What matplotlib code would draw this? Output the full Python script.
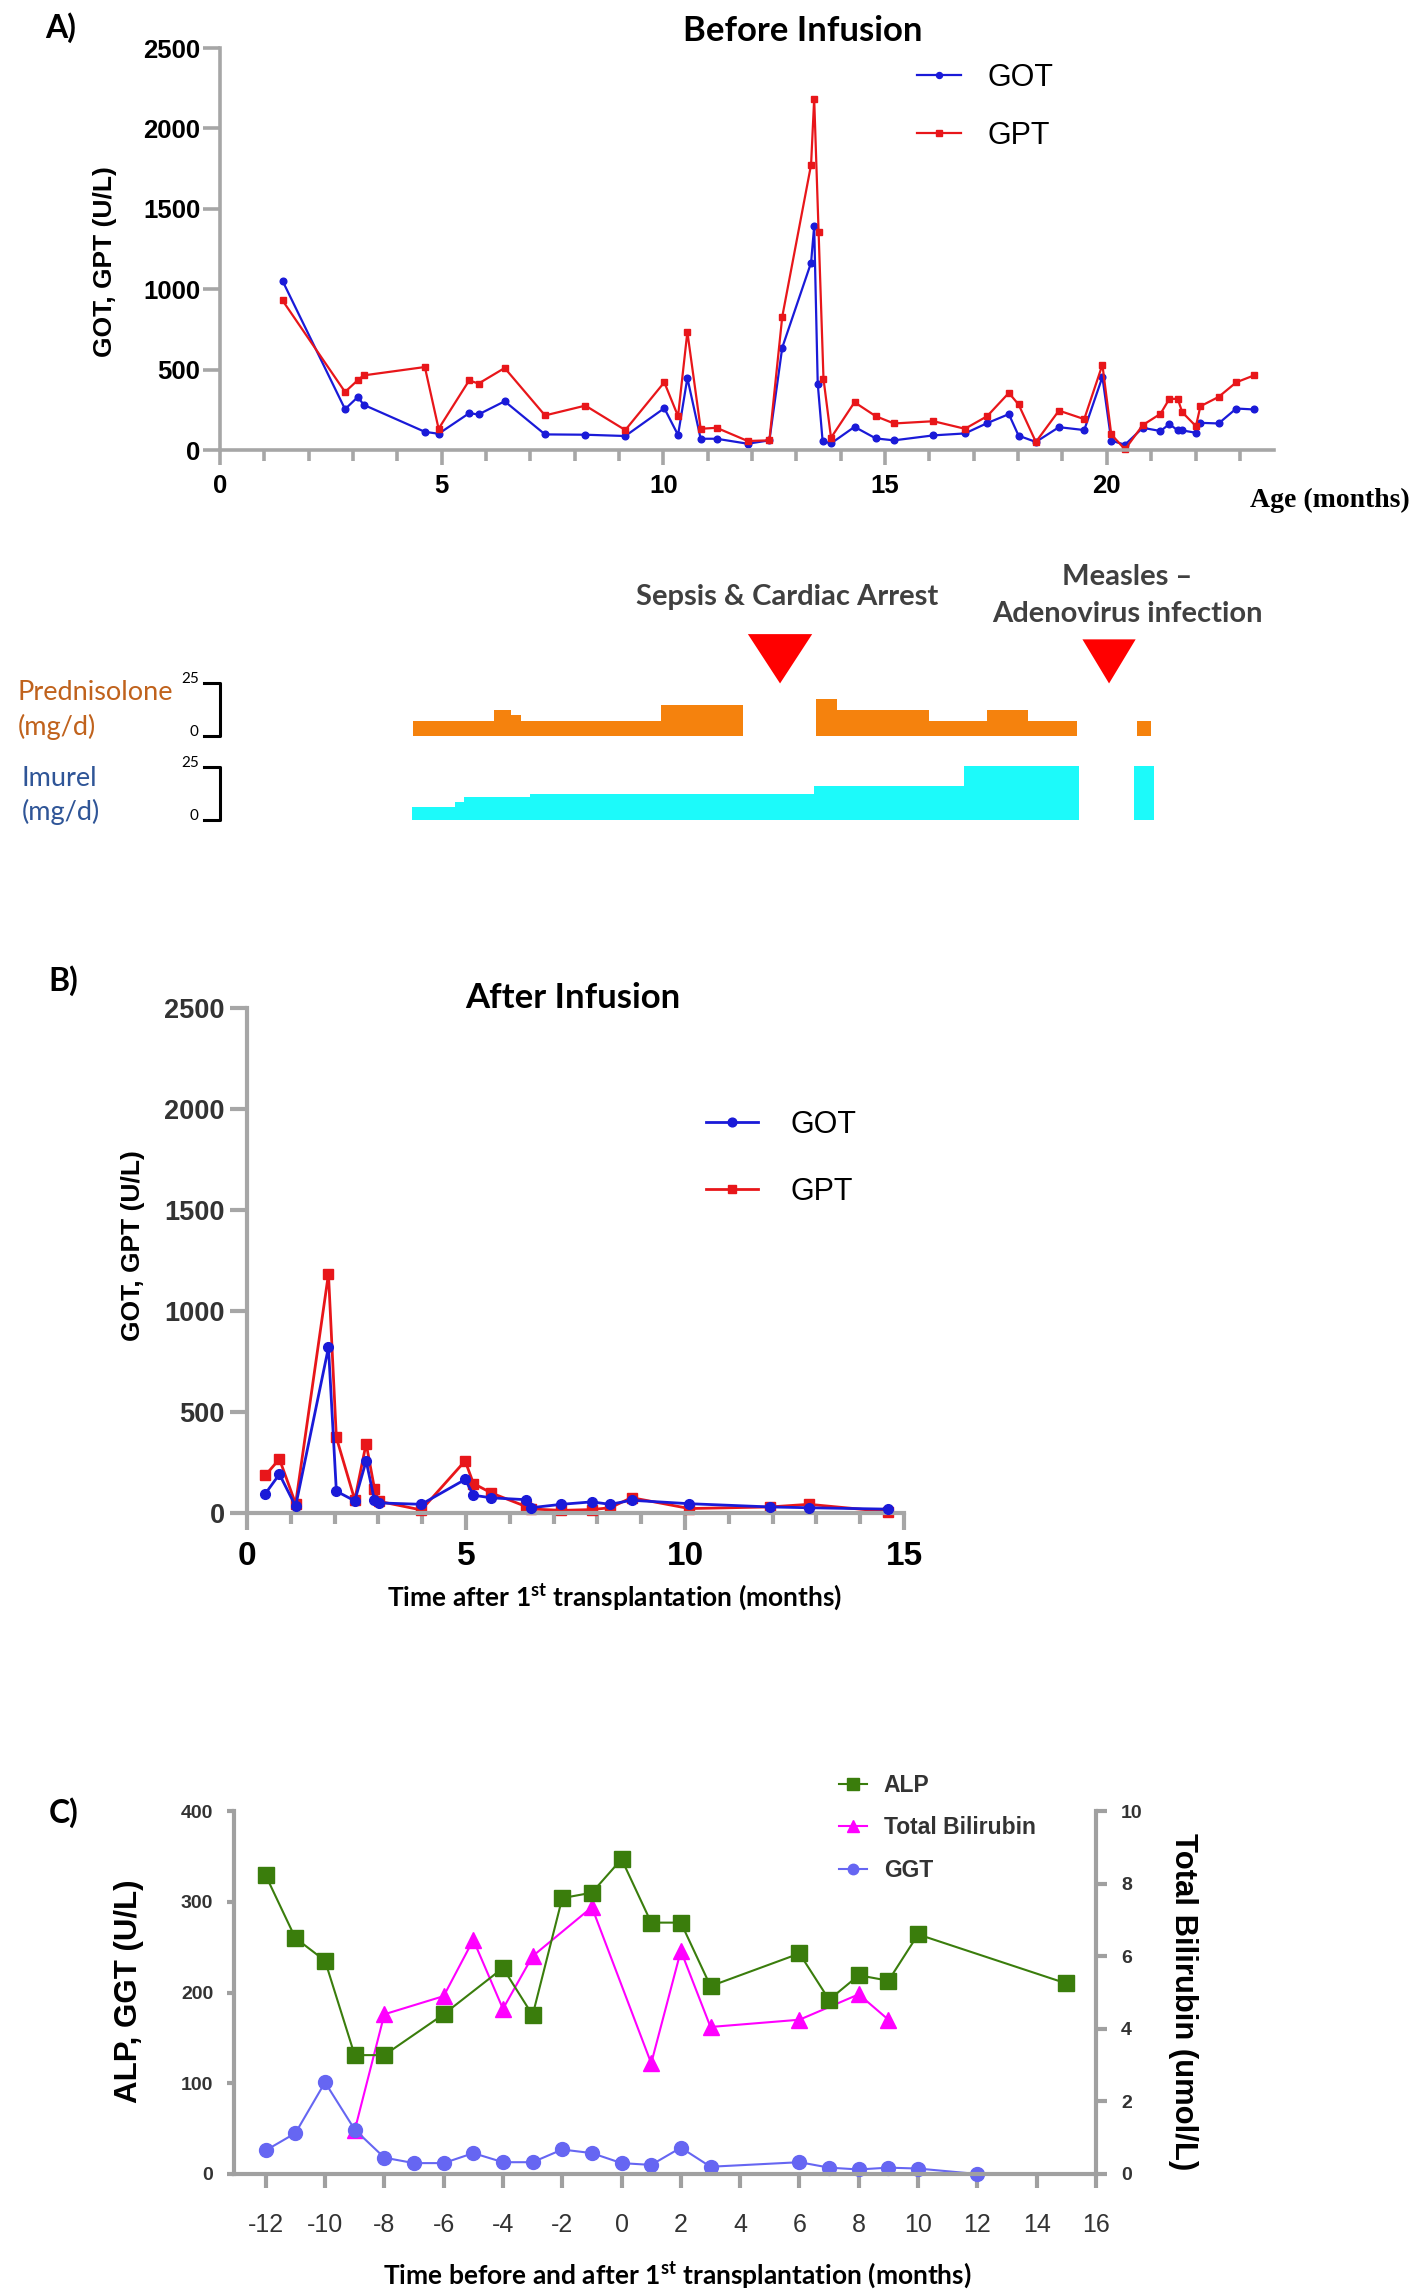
import matplotlib
matplotlib.use("Agg")
import matplotlib.pyplot as plt
from matplotlib import font_manager

W, H = 1417, 2294

# ---- panel A: GOT / GPT before infusion (age in months)
got_a_x = [1.41, 2.82, 3.11, 3.24, 4.62, 4.93, 5.62, 5.83, 6.42, 7.33, 8.24, 9.14, 10.02, 10.33,
           10.54, 10.84, 11.2, 11.9, 12.39, 12.68, 13.33, 13.4, 13.48, 13.59, 13.78, 14.31, 14.79,
           15.2, 16.09, 16.8, 17.3, 17.79, 18.01, 18.4, 18.92, 19.49, 19.9, 20.1, 20.41, 20.81,
           21.21, 21.41, 21.6, 21.7, 22.01, 22.11, 22.52, 22.92, 23.32]
got_a = [1052, 254, 330, 281, 113, 101, 229, 221, 303, 97, 95, 87, 260, 93, 448, 70, 70, 39, 60,
         637, 1165, 1392, 413, 56, 41, 144, 72, 60, 91, 103, 167, 223, 89, 50, 142, 124, 454, 58,
         33, 138, 118, 161, 122, 122, 107, 169, 165, 258, 252]
gpt_a_x = [1.41, 2.82, 3.11, 3.24, 4.62, 4.93, 5.62, 5.83, 6.42, 7.33, 8.24, 9.14, 10.02, 10.33,
           10.54, 10.84, 11.2, 11.9, 12.39, 12.68, 13.33, 13.4, 13.5, 13.61, 13.78, 14.31, 14.79,
           15.2, 16.09, 16.8, 17.3, 17.79, 18.01, 18.4, 18.92, 19.49, 19.9, 20.1, 20.41, 20.81,
           21.21, 21.41, 21.6, 21.7, 22.01, 22.11, 22.52, 22.92, 23.32]
gpt_a = [930, 361, 435, 464, 516, 132, 433, 413, 510, 215, 276, 124, 421, 210, 734, 132, 138, 56,
         60, 829, 1774, 2184, 1355, 443, 76, 297, 210, 165, 179, 132, 210, 355, 283, 50, 245, 192,
         530, 97, 4, 155, 225, 318, 318, 235, 148, 272, 330, 421, 464]

# medication (mg/d), step changes in age months
pred_segs = [([4.36, 6.19, 6.56, 6.79, 9.94, 11.8], [7, 12.5, 10, 7, 14.5]),
             ([13.43, 13.92, 15.98, 17.29, 18.23, 19.32], [17.5, 12.5, 7, 12.5, 7]),
             ([20.67, 20.99], [7])]
imurel_segs = [([4.34, 5.29, 5.5, 7.0, 13.4, 16.78, 19.38], [6, 8.5, 11, 12.2, 16, 25.5]),
               ([20.62, 21.06], [25.5])]
event_month = [12.63, 20.05]
event_width = [1.45, 1.2]
event_top = [88.5, 86]
event_labels = ["Sepsis & Cardiac Arrest", "Measles \u2013\nAdenovirus infection"]

# ---- panel B: after infusion
b_x = [0.42, 0.74, 1.11, 1.86, 2.04, 2.46, 2.72, 2.91, 3.01, 3.98, 4.98, 5.17, 5.58, 6.36, 6.48,
       7.18, 7.87, 8.29, 8.78, 10.1, 11.94, 12.83, 14.64]
got_b = [96, 192, 33, 820, 108, 60, 258, 63, 50, 43, 166, 88, 75, 66, 26, 43, 55, 43, 63, 46, 30,
         26, 19]
gpt_b = [187, 267, 46, 1184, 374, 65, 344, 121, 58, 15, 258, 146, 99, 33, 20, 13, 17, 26, 76, 22,
         30, 43, 6]

# ---- panel C: ALP, bilirubin, GGT
alp_x = [-12, -11, -10, -9, -8, -6, -4, -3, -2, -1, 0, 1, 2, 3, 6, 7, 8, 9, 10, 15]
alp = [329, 260, 235, 131, 131, 176, 227, 175, 304, 310, 347, 277, 277, 207, 243, 192, 219, 213,
       264, 210]
bil_x = [-9, -8, -6, -5, -4, -3, -1, 1, 2, 3, 6, 8, 9]
bil = [1.2, 4.4, 4.9, 6.45, 4.55, 6.0, 7.35, 3.05, 6.15, 4.05, 4.25, 4.95, 4.25]
ggt_x = [-12, -11, -10, -9, -8, -7, -6, -5, -4, -3, -2, -1, 0, 1, 2, 3, 6, 7, 8, 9, 10, 12]
ggt = [26, 45, 101, 49, 18, 12, 12, 23, 13, 13, 27, 23, 12, 10, 29, 8, 13, 7, 5, 7, 6, 0]

names = {f.name for f in font_manager.fontManager.ttflist}


def pick(*cands):
    for c in cands:
        if c in names:
            return c
    return "DejaVu Sans"


CAL = pick("Lato", "Open Sans")
ARIAL = pick("Liberation Sans")
NARROW = pick("Liberation Sans Narrow", "Liberation Sans")
TIMES = pick("Liberation Serif", "DejaVu Serif")

plt.rcParams["font.family"] = ARIAL
plt.rcParams["mathtext.fontset"] = "custom"
plt.rcParams["mathtext.rm"] = CAL + ":bold"
plt.rcParams["mathtext.it"] = CAL + ":bold"

BLUE = "#1a1ad8"
RED = "#e8161a"
GRAY = "#a6a6a6"


def box(l, t, r, b):
    return [l / W, 1 - b / H, (r - l) / W, (b - t) / H]


def px(x, y):
    return x / W, 1 - y / H


fig = plt.figure(figsize=(W / 100, H / 100), dpi=100)


def style_axes(ax, lw=2.6):
    for s in ["top", "right"]:
        ax.spines[s].set_visible(False)
    for s in ["left", "bottom"]:
        ax.spines[s].set_color(GRAY)
        ax.spines[s].set_linewidth(lw)
    ax.tick_params(which="both", color=GRAY, width=lw)


# ================= A
ax = fig.add_axes(box(220, 48, 1274, 450))
style_axes(ax)
ax.plot(got_a_x, got_a, "-o", color=BLUE, lw=1.6, ms=4.8, label="GOT", clip_on=False)
ax.plot(gpt_a_x, gpt_a, "-s", color=RED, lw=1.6, ms=4.8, label="GPT", clip_on=False)
ax.set_xlim(0, 23.77)
ax.set_ylim(0, 2500)
ax.set_xticks([0, 5, 10, 15, 20])
ax.set_xticks(range(1, 24), minor=True)
ax.set_yticks(range(0, 2501, 500))
ax.tick_params(axis="y", length=12, pad=2)
ax.tick_params(axis="x", which="major", length=11, pad=6)
ax.tick_params(axis="x", which="minor", length=8)
for lab in ax.get_xticklabels() + ax.get_yticklabels():
    lab.set_fontsize(18.5)
    lab.set_fontweight("bold")
ax.legend(loc="upper left", bbox_to_anchor=px(917, 63), bbox_transform=fig.transFigure,
          frameon=False, fontsize=22, handlelength=1.45, handletextpad=0.85,
          labelspacing=0.9, borderpad=0, borderaxespad=0, markerscale=0.9)
fig.text(*px(61, 28), "A)", fontsize=23, fontweight="bold", family=CAL, ha="center", va="center")
fig.text(*px(803, 31), "Before Infusion", fontsize=25, fontweight="bold", family=CAL,
         ha="center", va="center")
fig.text(*px(105, 262), "GOT, GPT (U/L)", fontsize=19, fontweight="bold", rotation=90,
         ha="center", va="center")
fig.text(*px(1330, 500), "Age (months)", fontsize=20, fontweight="bold", family=TIMES,
         ha="center", va="center")

# medication strip
am = fig.add_axes(box(220, 560, 1274, 830))
am.set_xlim(0, 23.77)
am.set_ylim(-4.8, 123.8)
am.axis("off")
pred_base, imu_base = 40, 0
for t, d in pred_segs:
    am.fill_between(t, pred_base, [pred_base + v for v in d + d[-1:]], step="post",
                    color="#f5820d", lw=0)
for t, d in imurel_segs:
    am.fill_between(t, imu_base, [imu_base + v for v in d + d[-1:]], step="post",
                    color="#1cfafa", lw=0)
for m, w, top in zip(event_month, event_width, event_top):
    am.fill([m - w / 2, m + w / 2, m], [top, top, 65], color="#ff0000", lw=0)
am.text(12.8, 106, event_labels[0], fontsize=21, fontweight="bold", family=CAL, color="#404040",
        ha="center", va="center")
am.text(20.46, 107, event_labels[1], fontsize=21, fontweight="bold", family=CAL, color="#404040",
        ha="center", va="center", linespacing=1.5)
for base in [pred_base, imu_base]:
    am.plot([-0.36, 0, 0, -0.36], [base + 25, base + 25, base, base], color="black", lw=2.2,
            clip_on=False)
    am.text(-0.48, base + 27, "25", fontsize=11, family=CAL, ha="right", va="center")
    am.text(-0.48, base + 2, "0", fontsize=11, family=CAL, ha="right", va="center")
fig.text(*px(18, 693), "Prednisolone", fontsize=19.5, family=CAL, color="#c0621c", va="center")
fig.text(*px(18, 727), "(mg/d)", fontsize=19.5, family=CAL, color="#c0621c", va="center")
fig.text(*px(22, 778), "Imurel", fontsize=19.5, family=CAL, color="#2f5597", va="center")
fig.text(*px(22, 812), "(mg/d)", fontsize=19.5, family=CAL, color="#2f5597", va="center")

# ================= B
bx = fig.add_axes(box(247, 1008, 904, 1513))
style_axes(bx, lw=3)
bx.plot(b_x, got_b, "-o", color=BLUE, lw=2, ms=7, label="GOT", clip_on=False, zorder=3)
bx.plot(b_x, gpt_b, "-s", color=RED, lw=2, ms=6.5, label="GPT", clip_on=False, zorder=2)
bx.set_xlim(0, 15)
bx.set_ylim(0, 2500)
bx.set_xticks([0, 5, 10, 15])
bx.set_xticks(range(1, 15), minor=True)
bx.set_yticks(range(0, 2501, 500))
bx.tick_params(axis="y", length=12, pad=4)
bx.tick_params(axis="x", which="major", length=12, pad=8)
bx.tick_params(axis="x", which="minor", length=8)
for lab in bx.get_yticklabels():
    lab.set_fontsize(19.5)
    lab.set_fontweight("bold")
    lab.set_color("#333333")
for lab in bx.get_xticklabels():
    lab.set_fontsize(24)
    lab.set_fontweight("bold")
bx.legend(loc="upper left", bbox_to_anchor=px(706, 1110), bbox_transform=fig.transFigure,
          frameon=False, fontsize=22, handlelength=1.7, handletextpad=1.05,
          labelspacing=1.2, borderpad=0, borderaxespad=0, markerscale=0.9)
fig.text(*px(63, 981), "B)", fontsize=23, fontweight="bold", family=CAL, ha="center", va="center")
fig.text(*px(573, 998), "After Infusion", fontsize=25, fontweight="bold", family=CAL,
         ha="center", va="center")
fig.text(*px(133, 1246), "GOT, GPT (U/L)", fontsize=19, fontweight="bold", rotation=90,
         ha="center", va="center")
fig.text(*px(615, 1598), r"Time after 1$^{\rm st}$ transplantation (months)", fontsize=19,
         fontweight="bold", family=CAL, ha="center", va="center")

# ================= C
cx = fig.add_axes(box(234, 1811, 1096, 2174))
cx2 = cx.twinx()
cx.set_zorder(cx2.get_zorder() + 1)
cx.patch.set_visible(False)
for a in (cx, cx2):
    for s in a.spines.values():
        s.set_visible(False)
cx.spines["left"].set_visible(True)
cx.spines["bottom"].set_visible(True)
cx2.spines["right"].set_visible(True)
for s in [cx.spines["left"], cx.spines["bottom"], cx2.spines["right"]]:
    s.set_color("#a0a0a0")
    s.set_linewidth(3)

l_alp, = cx.plot(alp_x, alp, "-s", color="#3a7d0c", lw=1.5, ms=11, clip_on=False, label="ALP")
l_ggt, = cx.plot(ggt_x, ggt, "-o", color="#6666f2", lw=1.5, ms=10, clip_on=False, label="GGT")
l_bil, = cx2.plot(bil_x, bil, "-^", color="#ff00ff", lw=1.5, ms=11, clip_on=False,
                  label="Total Bilirubin")
cx.set_xlim(-13.07, 16)
cx.set_ylim(0, 400)
cx2.set_ylim(0, 10)
cx.set_xticks(range(-12, 17, 2))
cx.set_xticklabels([str(v) for v in range(-12, 17, 2)])
cx.set_yticks(range(0, 401, 100))
cx2.set_yticks(range(0, 11, 2))
cx.tick_params(axis="x", length=10, width=3, color="#a0a0a0", pad=18, labelsize=18,
               labelcolor="#333333")
cx.tick_params(axis="y", length=5, width=3, color="#a0a0a0", pad=10, labelsize=14,
               labelcolor="#333333")
cx2.tick_params(axis="y", length=8, width=3, color="#a0a0a0", pad=10, labelsize=14,
                labelcolor="#333333")
for lab in cx.get_yticklabels() + cx2.get_yticklabels():
    lab.set_fontweight("bold")
    lab.set_family(NARROW)
cx.legend(handles=[l_alp, l_bil, l_ggt], loc="upper left", bbox_to_anchor=px(839, 1774),
          bbox_transform=fig.transFigure, frameon=False, handlelength=1.2, handletextpad=0.75,
          labelspacing=0.85, borderpad=0, borderaxespad=0, markerscale=0.75,
          prop={"size": 16.5, "weight": "bold"}, labelcolor="#333333")
fig.text(*px(64, 1813), "C)", fontsize=23, fontweight="bold", family=CAL, ha="center",
         va="center")
fig.text(*px(129, 1991), "ALP, GGT (U/L)", fontsize=22.5, fontweight="bold", rotation=90,
         ha="center", va="center")
fig.text(*px(1183, 2002), "Total Bilirubin (umol/L)", fontsize=22.3, fontweight="bold",
         rotation=-90, ha="center", va="center")
fig.text(*px(677, 2276), r"Time before and after 1$^{\rm st}$ transplantation (months)",
         fontsize=19, fontweight="bold", family=CAL, ha="center", va="center")

fig.savefig("out.png", dpi=100, facecolor="white")
